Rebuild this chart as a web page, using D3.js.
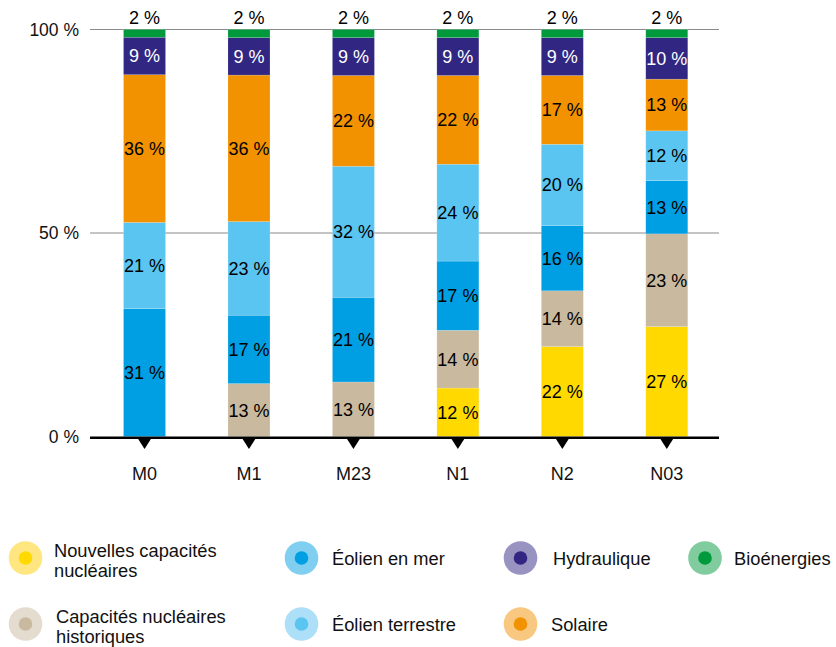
<!DOCTYPE html>
<html><head><meta charset="utf-8">
<script src="https://cdn.jsdelivr.net/npm/d3@7"></script>
<style>body{margin:0;background:#fff}svg{display:block;font-family:"Liberation Sans",Arial,sans-serif}</style>
</head><body><svg id="c" width="836" height="647"></svg>
<script>
const categories = ["M0","M1","M23","N1","N2","N03"];
const seriesNames = ["Nouvelles capacités nucléaires","Capacités nucléaires historiques","Éolien en mer","Éolien terrestre","Solaire","Hydraulique","Bioénergies"];
const nouveauNucleaire = [0, 0, 0, 11.9, 22.1, 27.0];
const nucleaireHistorique = [0, 13.0, 13.4, 14.2, 13.7, 22.8];
const eolienMer = [31.4, 16.8, 20.8, 17.0, 16.0, 13.1];
const eolienTerrestre = [21.2, 23.0, 32.2, 23.8, 20.0, 12.2];
const solaire = [36.3, 36.0, 22.3, 21.8, 16.9, 12.7];
const hydraulique = [9.2, 9.2, 9.3, 9.3, 9.3, 10.2];
const bioenergies = [1.9, 2.0, 2.0, 2.0, 2.0, 2.0];
const yTicks = [0, 50, 100];
const colors = ["#ffd900","#c9b99e","#009fe3","#5bc5f1","#f39200","#312783","#009a3d"];
const lightColors = ["#ffe680","#e4dccf","#80cff1","#addff8","#f9c880","#9893c1","#80cc9e"];
const labelColors = ["#000","#000","#000","#000","#000","#fff","#000"];

const seriesValues = [nouveauNucleaire, nucleaireHistorique, eolienMer, eolienTerrestre, solaire, hydraulique, bioenergies];
const keys = seriesNames;
const table = categories.map((c,i)=>{const o={cat:c}; keys.forEach((k,j)=>o[k]=seriesValues[j][i]); return o;});
const stacked = d3.stack().keys(keys)(table);

const svg = d3.select("#c");
const x = d3.scaleBand().domain(categories).range([92.3,719]).paddingInner(0.6).paddingOuter(0.3);
const y = d3.scaleLinear().domain([0,100]).range([436.5,29.5]);
const fmt = v => Math.round(v) + " %";

// gridlines
svg.append("g").selectAll("line").data(yTicks.filter(t=>t>0)).join("line")
  .attr("x1",90).attr("x2",719).attr("y1",d=>y(d)).attr("y2",d=>y(d))
  .attr("stroke","#8a8a8a").attr("stroke-width",1.2);

// y tick labels
svg.append("g").selectAll("text").data(yTicks).join("text")
  .attr("x",79).attr("y",d=>y(d)).attr("dy","0.36em").attr("text-anchor","end")
  .attr("font-size",17.5).attr("fill","#111").text(d=>d+" %");

// bars
const bw = 42;
const gs = svg.append("g").selectAll("g").data(stacked).join("g").attr("fill",(d,i)=>colors[i]);
gs.selectAll("rect").data(d=>d.map(p=>({p,cat:p.data.cat}))).join("rect")
  .attr("x",d=>x(d.cat)+x.bandwidth()/2-bw/2).attr("width",bw)
  .attr("y",d=>y(d.p[1])).attr("height",d=>Math.max(0,y(d.p[0])-y(d.p[1])))
  .attr("stroke","#ffffff").attr("stroke-opacity",0.25).attr("stroke-width",0.6);

// labels
const lg = svg.append("g").attr("font-size",18).attr("text-anchor","middle");
stacked.forEach((s,i)=>{
  s.forEach(p=>{
    const v = p[1]-p[0];
    if (v <= 0) return;
    const cx = x(p.data.cat)+x.bandwidth()/2;
    let cy = (y(p[0])+y(p[1]))/2;
    if (i === stacked.length-1) cy = y(p[1]) - 11.5;
    lg.append("text").attr("x",cx).attr("y",cy).attr("dy","0.36em")
      .attr("fill",labelColors[i]).text(fmt(v));
  });
});

// baseline axis
svg.append("line").attr("x1",90).attr("x2",719).attr("y1",437.8).attr("y2",437.8)
  .attr("stroke","#000").attr("stroke-width",2.6);
svg.append("g").selectAll("path").data(categories).join("path")
  .attr("d",d=>{const cx=x(d)+x.bandwidth()/2; return `M${cx-7},438 L${cx+7},438 L${cx},449 Z`;})
  .attr("fill","#000");

// x labels
svg.append("g").selectAll("text").data(categories).join("text")
  .attr("x",d=>x(d)+x.bandwidth()/2).attr("y",473.5).attr("dy","0.36em").attr("text-anchor","middle")
  .attr("font-size",18).attr("fill","#111").text(d=>d);

// legend
const legendPos = [
  {cx:25.5, cy:558, ty:[550,570.5], tx:54, lines:["Nouvelles capacités","nucléaires"]},
  {cx:25.5, cy:624, ty:[616.5,636.5], tx:56, lines:["Capacités nucléaires","historiques"]},
  {cx:301.5, cy:558, ty:[558.5], tx:332, lines:["Éolien en mer"]},
  {cx:301.5, cy:624, ty:[624], tx:332, lines:["Éolien terrestre"]},
  {cx:520.5, cy:624, ty:[624], tx:551, lines:["Solaire"]},
  {cx:520.5, cy:558, ty:[558.5], tx:553, lines:["Hydraulique"]},
  {cx:705, cy:558, ty:[558.5], tx:734, lines:["Bioénergies"]}
];
const leg = svg.append("g");
seriesNames.forEach((name,i)=>{
  const p = legendPos[i];
  leg.append("circle").attr("cx",p.cx).attr("cy",p.cy).attr("r",16.8).attr("fill",lightColors[i]);
  leg.append("circle").attr("cx",p.cx).attr("cy",p.cy).attr("r",6.8).attr("fill",colors[i]);
  p.lines.forEach((l,k)=>{
    leg.append("text").attr("x",p.tx).attr("y",p.ty[k]).attr("dy","0.36em")
      .attr("font-size",18.3).attr("fill","#111").text(l);
  });
});
</script></body></html>
